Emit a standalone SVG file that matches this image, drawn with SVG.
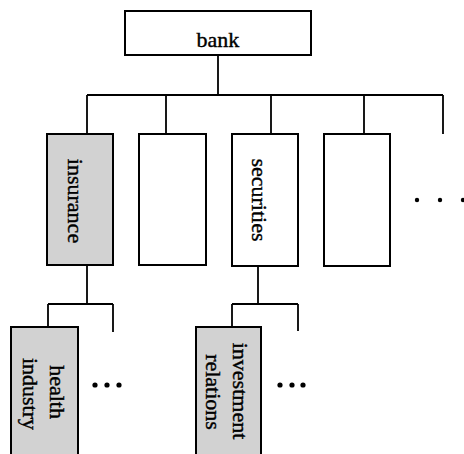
<svg xmlns="http://www.w3.org/2000/svg" width="464" height="454" viewBox="0 0 464 454">
<style>
.box{fill:#fff;stroke:#000;stroke-width:2}
.shade{fill:#d2d2d2;stroke:#000;stroke-width:2}
.ln{fill:none;stroke:#000;stroke-width:1.8}
text{font-family:"Liberation Serif","Times New Roman",serif;font-size:22px;fill:#000;stroke:#000;stroke-width:0.4}
.dot{fill:#000}
</style>
<rect width="464" height="454" fill="#fff"/>
<g id="connectors">
<path class="ln" d="M218 55V95M87 95H443M87 95V134M166 95V134M271 95V134M364 95V134M443 95V134"/>
<path class="ln" d="M87 265V304M48 304H113M48 304V332M113 304V332"/>
<path class="ln" d="M258 266V304M232 304H298M232 304V331M298 304V331"/>
</g>
<g id="bank">
<rect class="box" x="125" y="11" width="186" height="44"/>
<text x="218" y="47" text-anchor="middle">bank</text>
</g>
<g id="insurance">
<rect class="shade" x="47" y="134" width="66" height="131"/>
<text transform="translate(68 201) rotate(90)" text-anchor="middle">insurance</text>
</g>
<g id="blank1">
<rect class="box" x="139" y="134" width="67" height="131"/>
</g>
<g id="securities">
<rect class="box" x="232" y="134" width="66" height="132"/>
<text transform="translate(252 200) rotate(90)" text-anchor="middle">securities</text>
</g>
<g id="blank2">
<rect class="box" x="324" y="134" width="66" height="132"/>
</g>
<g id="more-top">
<circle class="dot" cx="417" cy="200" r="2.2"/>
<circle class="dot" cx="440" cy="200" r="2.2"/>
<circle class="dot" cx="463" cy="200" r="2.2"/>
</g>
<g id="health-industry">
<rect class="shade" x="11" y="327" width="67" height="135"/>
<text transform="translate(50 392) rotate(90)" text-anchor="middle">health</text>
<text transform="translate(23 394) rotate(90)" text-anchor="middle">industry</text>
</g>
<g id="more-insurance">
<circle class="dot" cx="95" cy="385" r="2.6"/>
<circle class="dot" cx="107" cy="385" r="2.6"/>
<circle class="dot" cx="119" cy="385" r="2.6"/>
</g>
<g id="investment-relations">
<rect class="shade" x="196" y="327" width="65" height="135"/>
<text transform="translate(233 391) rotate(90)" text-anchor="middle">investment</text>
<text transform="translate(206 392) rotate(90)" text-anchor="middle">relations</text>
</g>
<g id="more-securities">
<circle class="dot" cx="280" cy="385" r="2.6"/>
<circle class="dot" cx="292" cy="385" r="2.6"/>
<circle class="dot" cx="303" cy="385" r="2.6"/>
</g>
</svg>
